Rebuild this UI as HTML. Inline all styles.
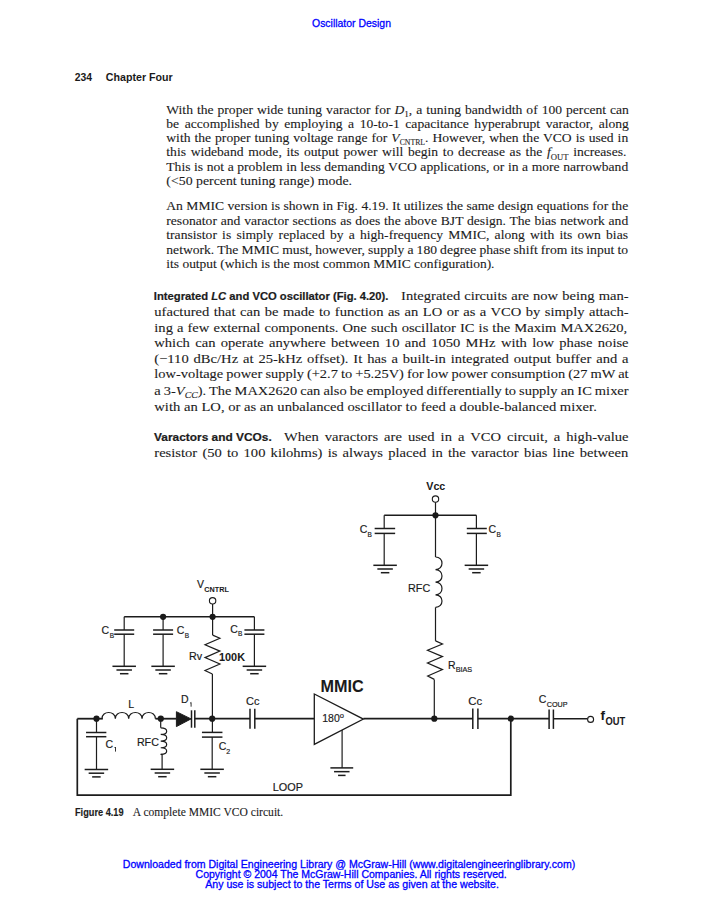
<!DOCTYPE html>
<html><head><meta charset="utf-8"><style>
html,body{margin:0;padding:0;background:#fff;width:701px;height:900px;overflow:hidden}
svg{display:block}
</style></head><body>
<svg width="701" height="900" viewBox="0 0 701 900">
<g font-family="Liberation Serif" fill="#1c1c1c" stroke="#1c1c1c" stroke-width="0.1">
<text x="312" y="26.8" font-size="11.5" font-family="Liberation Sans" fill="#0000ff" stroke="#0000ff" stroke-width="0.3" textLength="79.0" lengthAdjust="spacingAndGlyphs" >Oscillator Design</text>
<text x="74.7" y="80.7" font-size="10" font-family="Liberation Sans" font-weight="bold" fill="#1a1a1a" stroke="#1a1a1a" stroke-width="0" textLength="17.3" lengthAdjust="spacingAndGlyphs" >234</text>
<text x="105.8" y="80.7" font-size="10" font-family="Liberation Sans" font-weight="bold" fill="#1a1a1a" stroke="#1a1a1a" stroke-width="0" textLength="66.9" lengthAdjust="spacingAndGlyphs" >Chapter Four</text>
<text x="166.3" y="114.0" font-size="12.6" textLength="462.6" lengthAdjust="spacingAndGlyphs" style="word-spacing:0.52px">With the proper wide tuning varactor for <tspan font-style="italic">D</tspan><tspan font-size="8.5" dy="2.5">1</tspan><tspan dy="-2.5">, a tuning bandwidth of 100 percent can</tspan></text>
<text x="166.3" y="128.1" font-size="12.6" textLength="462.6" lengthAdjust="spacingAndGlyphs" style="word-spacing:2.03px">be accomplished by employing a 10-to-1 capacitance hyperabrupt varactor, along</text>
<text x="166.3" y="142.0" font-size="12.6" textLength="461.9" lengthAdjust="spacingAndGlyphs" style="word-spacing:0.54px">with the proper tuning voltage range for <tspan font-style="italic">V</tspan><tspan font-size="7.2" dy="3.2">CNTRL</tspan><tspan dy="-3.2">. However, when the VCO is used in</tspan></text>
<text x="166.3" y="156.3" font-size="12.6" textLength="460.1" lengthAdjust="spacingAndGlyphs" style="word-spacing:1.18px">this wideband mode, its output power will begin to decrease as the <tspan font-style="italic">f</tspan><tspan font-size="8" dy="3.2">OUT</tspan><tspan dy="-3.2"> increases.</tspan></text>
<text x="166.3" y="170.8" font-size="12.6" textLength="461.9" lengthAdjust="spacingAndGlyphs" style="word-spacing:0.16px">This is not a problem in less demanding VCO applications, or in a more narrowband</text>
<text x="166.3" y="185.3" font-size="12.6" textLength="185.7" lengthAdjust="spacingAndGlyphs">(&lt;50 percent tuning range) mode.</text>
<text x="166.3" y="209.7" font-size="12.6" textLength="461.9" lengthAdjust="spacingAndGlyphs" style="word-spacing:0.02px">An MMIC version is shown in Fig. 4.19. It utilizes the same design equations for the</text>
<text x="166.3" y="224.7" font-size="12.6" textLength="461.9" lengthAdjust="spacingAndGlyphs" style="word-spacing:0.38px">resonator and varactor sections as does the above BJT design. The bias network and</text>
<text x="166.3" y="238.5" font-size="12.6" textLength="461.7" lengthAdjust="spacingAndGlyphs" style="word-spacing:1.67px">transistor is simply replaced by a high-frequency MMIC, along with its own bias</text>
<text x="166.3" y="253.5" font-size="12.6" textLength="461.7" lengthAdjust="spacingAndGlyphs" style="word-spacing:-0.27px">network. The MMIC must, however, supply a 180 degree phase shift from its input to</text>
<text x="166.3" y="267.7" font-size="12.6" textLength="328.2" lengthAdjust="spacingAndGlyphs">its output (which is the most common MMIC configuration).</text>
<text x="153.8" y="299.7" font-size="11.3" font-family="Liberation Sans" font-weight="bold" fill="#1c1c1c" stroke="#1c1c1c" stroke-width="0.2" textLength="234.7" lengthAdjust="spacingAndGlyphs" >Integrated <tspan font-style="italic">LC</tspan> and VCO oscillator (Fig. 4.20).</text>
<text x="401.1" y="299.7" font-size="13.2" textLength="227.5" lengthAdjust="spacingAndGlyphs" style="word-spacing:0.38px">Integrated circuits are now being man-</text>
<text x="154.3" y="315.6" font-size="13.2" textLength="474.3" lengthAdjust="spacingAndGlyphs" style="word-spacing:0.75px">ufactured that can be made to function as an LO or as a VCO by simply attach-</text>
<text x="154.3" y="331.6" font-size="13.2" textLength="472.9" lengthAdjust="spacingAndGlyphs" style="word-spacing:0.38px">ing a few external components. One such oscillator IC is the Maxim MAX2620,</text>
<text x="154.3" y="346.5" font-size="13.2" textLength="474.3" lengthAdjust="spacingAndGlyphs" style="word-spacing:1.53px">which can operate anywhere between 10 and 1050 MHz with low phase noise</text>
<text x="154.3" y="362.6" font-size="13.2" textLength="474.3" lengthAdjust="spacingAndGlyphs" style="word-spacing:1.14px">(&#8722;110 dBc/Hz at 25-kHz offset). It has a built-in integrated output buffer and a</text>
<text x="154.3" y="378.4" font-size="13.2" textLength="474.3" lengthAdjust="spacingAndGlyphs" style="word-spacing:-0.50px">low-voltage power supply (+2.7 to +5.25V) for low power consumption (27 mW at</text>
<text x="154.3" y="394.5" font-size="13.2" textLength="474.3" lengthAdjust="spacingAndGlyphs" style="word-spacing:-0.50px">a 3-<tspan font-style="italic">V</tspan><tspan font-size="9" dy="3"><tspan font-style="italic">CC</tspan></tspan><tspan dy="-3">). The MAX2620 can also be employed differentially to supply an IC mixer</tspan></text>
<text x="154.3" y="410.7" font-size="13.2" textLength="442.5" lengthAdjust="spacingAndGlyphs">with an LO, or as an unbalanced oscillator to feed a double-balanced mixer.</text>
<text x="154.1" y="441.3" font-size="11.3" font-family="Liberation Sans" font-weight="bold" fill="#1c1c1c" stroke="#1c1c1c" stroke-width="0.2" textLength="117.6" lengthAdjust="spacingAndGlyphs" >Varactors and VCOs.</text>
<text x="283.9" y="441.3" font-size="13.2" textLength="344.7" lengthAdjust="spacingAndGlyphs" style="word-spacing:2.14px">When varactors are used in a VCO circuit, a high-value</text>
<text x="154.3" y="457.3" font-size="13.2" textLength="473.9" lengthAdjust="spacingAndGlyphs" style="word-spacing:1.41px">resistor (50 to 100 kilohms) is always placed in the varactor bias line between</text>
<text x="75" y="816.1" font-size="10" font-family="Liberation Sans" font-weight="bold" fill="#1c1c1c" stroke="#1c1c1c" stroke-width="0.15" textLength="48.6" lengthAdjust="spacingAndGlyphs" >Figure 4.19</text>
<text x="132.8" y="816.1" font-size="11.5" textLength="150.4" lengthAdjust="spacingAndGlyphs" >A complete MMIC VCO circuit.</text>
<text x="122.8" y="867.6" font-size="10.6" font-family="Liberation Sans" fill="#0000ff" stroke="#0000ff" stroke-width="0.3" textLength="452.4" lengthAdjust="spacingAndGlyphs" >Downloaded from Digital Engineering Library @ McGraw-Hill (www.digitalengineeringlibrary.com)</text>
<text x="195.6" y="877.9" font-size="10.6" font-family="Liberation Sans" fill="#0000ff" stroke="#0000ff" stroke-width="0.3" textLength="311.2" lengthAdjust="spacingAndGlyphs" >Copyright &#169; 2004 The McGraw-Hill Companies. All rights reserved.</text>
<text x="205.2" y="888.1" font-size="10.6" font-family="Liberation Sans" fill="#0000ff" stroke="#0000ff" stroke-width="0.3" textLength="293.7" lengthAdjust="spacingAndGlyphs" >Any use is subject to the Terms of Use as given at the website.</text>
<text x="426.3" y="490.4" font-size="11" font-family="Liberation Sans" font-weight="bold" fill="#1a1a1a" stroke="#1a1a1a" stroke-width="0.05" textLength="19.0" lengthAdjust="spacingAndGlyphs" >Vcc</text>
<text x="359.7" y="532.8" font-size="10.5" font-family="Liberation Sans" fill="#1a1a1a" stroke="#1a1a1a" stroke-width="0.18" >C</text>
<text x="367.6" y="536.7" font-size="6.5" font-family="Liberation Sans" fill="#1a1a1a" stroke="#1a1a1a" stroke-width="0.18" >B</text>
<text x="488.5" y="533.3" font-size="10.5" font-family="Liberation Sans" fill="#1a1a1a" stroke="#1a1a1a" stroke-width="0.18" >C</text>
<text x="496.6" y="536.9" font-size="6.5" font-family="Liberation Sans" fill="#1a1a1a" stroke="#1a1a1a" stroke-width="0.18" >B</text>
<text x="408" y="591.5" font-size="11" font-family="Liberation Sans" fill="#1a1a1a" stroke="#1a1a1a" stroke-width="0.18" textLength="22.2" lengthAdjust="spacingAndGlyphs" >RFC</text>
<text x="447.9" y="668.5" font-size="10.5" font-family="Liberation Sans" fill="#1a1a1a" stroke="#1a1a1a" stroke-width="0.18" >R</text>
<text x="455.7" y="672.2" font-size="7" font-family="Liberation Sans" fill="#1a1a1a" stroke="#1a1a1a" stroke-width="0.18" textLength="16.5" lengthAdjust="spacingAndGlyphs" >BIAS</text>
<text x="197.1" y="588.3" font-size="10.5" font-family="Liberation Sans" fill="#1a1a1a" stroke="#1a1a1a" stroke-width="0.18" >V</text>
<text x="204.3" y="591.7" font-size="7" font-family="Liberation Sans" font-weight="bold" fill="#1a1a1a" stroke="#1a1a1a" stroke-width="0.05" textLength="24.5" lengthAdjust="spacingAndGlyphs" >CNTRL</text>
<text x="101.4" y="634.2" font-size="10.5" font-family="Liberation Sans" fill="#1a1a1a" stroke="#1a1a1a" stroke-width="0.18" >C</text>
<text x="109.8" y="638.0" font-size="6.5" font-family="Liberation Sans" fill="#1a1a1a" stroke="#1a1a1a" stroke-width="0.18" >B</text>
<text x="176.8" y="634.2" font-size="10.5" font-family="Liberation Sans" fill="#1a1a1a" stroke="#1a1a1a" stroke-width="0.18" >C</text>
<text x="184.7" y="637.9" font-size="6.5" font-family="Liberation Sans" fill="#1a1a1a" stroke="#1a1a1a" stroke-width="0.18" >B</text>
<text x="230.2" y="632.8" font-size="10.5" font-family="Liberation Sans" fill="#1a1a1a" stroke="#1a1a1a" stroke-width="0.18" >C</text>
<text x="238.0" y="636.3" font-size="6.5" font-family="Liberation Sans" fill="#1a1a1a" stroke="#1a1a1a" stroke-width="0.18" >B</text>
<text x="189.1" y="660.0" font-size="10.5" font-family="Liberation Sans" fill="#1a1a1a" stroke="#1a1a1a" stroke-width="0.18" textLength="13.1" lengthAdjust="spacingAndGlyphs" >Rv</text>
<text x="219.0" y="661.0" font-size="10.8" font-family="Liberation Sans" font-weight="bold" fill="#1a1a1a" stroke="#1a1a1a" stroke-width="0.05" textLength="26.0" lengthAdjust="spacingAndGlyphs" >100K</text>
<text x="272.8" y="790.8" font-size="11" font-family="Liberation Sans" fill="#1a1a1a" stroke="#1a1a1a" stroke-width="0.18" textLength="30.2" lengthAdjust="spacingAndGlyphs" >LOOP</text>
<text x="105.4" y="747.9" font-size="10.5" font-family="Liberation Sans" fill="#1a1a1a" stroke="#1a1a1a" stroke-width="0.18" >C</text>
<text x="128.2" y="707.7" font-size="10.5" font-family="Liberation Sans" fill="#1a1a1a" stroke="#1a1a1a" stroke-width="0.18" >L</text>
<text x="136.9" y="745.9" font-size="11" font-family="Liberation Sans" fill="#1a1a1a" stroke="#1a1a1a" stroke-width="0.18" textLength="22.0" lengthAdjust="spacingAndGlyphs" >RFC</text>
<text x="181.1" y="703.4" font-size="10.5" font-family="Liberation Sans" fill="#1a1a1a" stroke="#1a1a1a" stroke-width="0.18" >D</text>
<text x="218.7" y="750.4" font-size="10.5" font-family="Liberation Sans" fill="#1a1a1a" stroke="#1a1a1a" stroke-width="0.18" >C</text>
<text x="226.2" y="754.2" font-size="7" font-family="Liberation Sans" fill="#1a1a1a" stroke="#1a1a1a" stroke-width="0.18" >2</text>
<text x="246.1" y="704.8" font-size="10.5" font-family="Liberation Sans" fill="#1a1a1a" stroke="#1a1a1a" stroke-width="0.18" textLength="13.4" lengthAdjust="spacingAndGlyphs" >Cc</text>
<text x="320.5" y="691.5" font-size="16" font-family="Liberation Sans" font-weight="bold" fill="#1a1a1a" stroke="#1a1a1a" stroke-width="0.05" textLength="43.2" lengthAdjust="spacingAndGlyphs" >MMIC</text>
<text x="322.3" y="722.3" font-size="11" font-family="Liberation Sans" fill="#1a1a1a" stroke="#1a1a1a" stroke-width="0.18" textLength="21.7" lengthAdjust="spacingAndGlyphs" >180<tspan font-size="8" dy="-4">o</tspan></text>
<text x="468.2" y="705.1" font-size="10.5" font-family="Liberation Sans" fill="#1a1a1a" stroke="#1a1a1a" stroke-width="0.18" textLength="13.9" lengthAdjust="spacingAndGlyphs" >Cc</text>
<text x="538.8" y="703.4" font-size="10.5" font-family="Liberation Sans" fill="#1a1a1a" stroke="#1a1a1a" stroke-width="0.18" >C</text>
<text x="546.8" y="706.8" font-size="7" font-family="Liberation Sans" fill="#1a1a1a" stroke="#1a1a1a" stroke-width="0.18" textLength="20.8" lengthAdjust="spacingAndGlyphs" >COUP</text>
<text x="600.5" y="720.3" font-size="13.5" font-family="Liberation Sans" font-weight="bold" fill="#1a1a1a" stroke="#1a1a1a" stroke-width="0.05" >f</text>
<text x="605.4" y="725.4" font-size="10" font-family="Liberation Sans" font-weight="bold" fill="#1a1a1a" stroke="#1a1a1a" stroke-width="0.05" textLength="19.7" lengthAdjust="spacingAndGlyphs" >OUT</text>
</g>
<g stroke="#1c1c1c" fill="none" stroke-linecap="butt">
<circle cx="435.5" cy="499.1" r="3.2" fill="#fff" stroke-width="1.1"/>
<line x1="435.5" y1="502.3" x2="435.5" y2="557" stroke-width="1.2"/>
<line x1="384.2" y1="515.3" x2="476.4" y2="515.3" stroke-width="1.4"/>
<circle cx="435.5" cy="515.3" r="3.1" fill="#1a1a1a" stroke="none"/>
<line x1="384.2" y1="515.3" x2="384.2" y2="528.5" stroke-width="1.2"/>
<line x1="384.2" y1="533.4" x2="384.2" y2="565.3" stroke-width="1.2"/>
<line x1="374.65" y1="528.5" x2="395.15" y2="528.5" stroke-width="1.5"/>
<line x1="374.65" y1="533.4" x2="395.15" y2="533.4" stroke-width="1.5"/>
<line x1="373.35" y1="565.3" x2="396.85" y2="565.3" stroke-width="1.5"/>
<line x1="377.35" y1="569.0" x2="392.85" y2="569.0" stroke-width="1.5"/>
<line x1="380.85" y1="572.6999999999999" x2="389.35" y2="572.6999999999999" stroke-width="1.5"/>
<line x1="476.4" y1="515.3" x2="476.4" y2="528.5" stroke-width="1.2"/>
<line x1="476.4" y1="533.4" x2="476.4" y2="565.3" stroke-width="1.2"/>
<line x1="466.8" y1="528.5" x2="486.8" y2="528.5" stroke-width="1.5"/>
<line x1="466.8" y1="533.4" x2="486.8" y2="533.4" stroke-width="1.5"/>
<line x1="464.65" y1="565.3" x2="488.15" y2="565.3" stroke-width="1.5"/>
<line x1="468.65" y1="569.0" x2="484.15" y2="569.0" stroke-width="1.5"/>
<line x1="472.15" y1="572.6999999999999" x2="480.65" y2="572.6999999999999" stroke-width="1.5"/>
<path d="M435.5,557 C444.145,557.0 444.145,569.6 435.5,569.6 C444.145,569.6 444.145,582.2 435.5,582.2 C444.145,582.2 444.145,594.8000000000001 435.5,594.8000000000001 C444.145,594.8 444.145,607.4 435.5,607.4" stroke-width="1.2" fill="none"/>
<line x1="435.5" y1="607.4" x2="435.5" y2="640.9" stroke-width="1.2"/>
<path d="M435.5,640.9 L442.5,644.0 L427.5,650.3 L442.5,656.6 L427.5,663.0 L442.5,669.6 L427.7,676.0 L434.3,679.4" stroke-width="1.2" fill="none"/>
<line x1="434.3" y1="679.4" x2="434.3" y2="718.5" stroke-width="1.2"/>
<circle cx="212.6" cy="600.8" r="3.2" fill="#fff" stroke-width="1.1"/>
<line x1="212.6" y1="604" x2="212.6" y2="635.1" stroke-width="1.2"/>
<line x1="124.2" y1="616.8" x2="254.4" y2="616.8" stroke-width="1.4"/>
<circle cx="163.1" cy="616.8" r="3.1" fill="#1a1a1a" stroke="none"/>
<circle cx="212.6" cy="616.8" r="3.1" fill="#1a1a1a" stroke="none"/>
<line x1="124.2" y1="616.8" x2="124.2" y2="630.0" stroke-width="1.2"/>
<line x1="124.2" y1="634.2" x2="124.2" y2="666.3" stroke-width="1.2"/>
<line x1="114.2" y1="630.0" x2="134.2" y2="630.0" stroke-width="1.5"/>
<line x1="114.2" y1="634.2" x2="134.2" y2="634.2" stroke-width="1.5"/>
<line x1="112.45" y1="666.3" x2="135.95" y2="666.3" stroke-width="1.5"/>
<line x1="116.45" y1="670.0" x2="131.95" y2="670.0" stroke-width="1.5"/>
<line x1="119.95" y1="673.6999999999999" x2="128.45" y2="673.6999999999999" stroke-width="1.5"/>
<line x1="163.1" y1="616.8" x2="163.1" y2="630.0" stroke-width="1.2"/>
<line x1="163.1" y1="634.2" x2="163.1" y2="666.3" stroke-width="1.2"/>
<line x1="153.1" y1="630.0" x2="173.1" y2="630.0" stroke-width="1.5"/>
<line x1="153.1" y1="634.2" x2="173.1" y2="634.2" stroke-width="1.5"/>
<line x1="151.35" y1="666.3" x2="174.85" y2="666.3" stroke-width="1.5"/>
<line x1="155.35" y1="670.0" x2="170.85" y2="670.0" stroke-width="1.5"/>
<line x1="158.85" y1="673.6999999999999" x2="167.35" y2="673.6999999999999" stroke-width="1.5"/>
<line x1="254.4" y1="616.8" x2="254.4" y2="630.0" stroke-width="1.2"/>
<line x1="254.4" y1="634.2" x2="254.4" y2="666.3" stroke-width="1.2"/>
<line x1="244.4" y1="630.0" x2="264.4" y2="630.0" stroke-width="1.5"/>
<line x1="244.4" y1="634.2" x2="264.4" y2="634.2" stroke-width="1.5"/>
<line x1="242.65" y1="666.3" x2="266.15" y2="666.3" stroke-width="1.5"/>
<line x1="246.65" y1="670.0" x2="262.15" y2="670.0" stroke-width="1.5"/>
<line x1="250.15" y1="673.6999999999999" x2="258.65" y2="673.6999999999999" stroke-width="1.5"/>
<path d="M212.6,635.1 L219.9,638.2 L205.0,644.8 L219.9,651.1 L205.0,657.6 L219.9,664.0 L205.0,670.5 L212.4,674.0" stroke-width="1.2" fill="none"/>
<line x1="212.4" y1="674.0" x2="212.4" y2="732.4" stroke-width="1.2"/>
<line x1="77.3" y1="718.7" x2="102.8" y2="718.7" stroke-width="1.8"/>
<line x1="155.4" y1="718.7" x2="176.4" y2="718.7" stroke-width="1.8"/>
<line x1="194.7" y1="718.7" x2="250" y2="718.7" stroke-width="1.8"/>
<line x1="254.8" y1="718.7" x2="314.3" y2="718.7" stroke-width="1.8"/>
<line x1="363.4" y1="718.7" x2="472.8" y2="718.7" stroke-width="1.8"/>
<line x1="477.9" y1="718.7" x2="549.1" y2="718.7" stroke-width="1.8"/>
<line x1="553.4" y1="718.7" x2="587.6" y2="718.7" stroke-width="1.6"/>
<circle cx="590.6" cy="719.4" r="3.0" fill="#fff" stroke-width="1.1"/>
<path d="M77.3,718.7 L77.3,795.2 L510.8,795.2 L510.8,718.7" stroke-width="1.7" fill="none"/>
<circle cx="96.5" cy="718.7" r="3.1" fill="#1a1a1a" stroke="none"/>
<circle cx="160.8" cy="718.7" r="3.1" fill="#1a1a1a" stroke="none"/>
<circle cx="212.2" cy="718.7" r="3.1" fill="#1a1a1a" stroke="none"/>
<circle cx="434.3" cy="718.7" r="3.1" fill="#1a1a1a" stroke="none"/>
<circle cx="510.8" cy="718.7" r="3.1" fill="#1a1a1a" stroke="none"/>
<line x1="96.5" y1="718.7" x2="96.5" y2="732.5" stroke-width="1.2"/>
<line x1="96.5" y1="736.7" x2="96.5" y2="769.5" stroke-width="1.2"/>
<line x1="86.05" y1="732.5" x2="106.35000000000001" y2="732.5" stroke-width="1.5"/>
<line x1="86.05" y1="736.7" x2="106.35000000000001" y2="736.7" stroke-width="1.5"/>
<line x1="84.65" y1="769.5" x2="108.15" y2="769.5" stroke-width="1.5"/>
<line x1="88.65" y1="773.2" x2="104.15" y2="773.2" stroke-width="1.5"/>
<line x1="92.15" y1="776.9" x2="100.65" y2="776.9" stroke-width="1.5"/>
<path d="M114.5,748.0 L115.5,747.0 L115.5,751.6" stroke-width="0.9" fill="none"/>
<path d="M102,718.7 C102.0,710.4540000000001 115.35,710.4540000000001 115.35,718.7 C115.35,710.4540000000001 128.7,710.4540000000001 128.7,718.7 C128.7,710.4540000000001 142.04999999999998,710.4540000000001 142.04999999999998,718.7 C142.05,710.4540000000001 155.4,710.4540000000001 155.4,718.7" stroke-width="1.2" fill="none"/>
<line x1="160.7" y1="718.7" x2="160.7" y2="727.8" stroke-width="1.2"/>
<path d="M160.7,727.8 C168.67999999999998,727.8 168.67999999999998,734.4499999999999 160.7,734.4499999999999 C168.67999999999998,734.4499999999999 168.67999999999998,741.0999999999999 160.7,741.0999999999999 C168.67999999999998,741.0999999999999 168.67999999999998,747.7499999999999 160.7,747.7499999999999 C168.67999999999998,747.75 168.67999999999998,754.4 160.7,754.4" stroke-width="1.2" fill="none"/>
<path d="M160.7,754.4 L162.1,754.6 L162.1,769.3" stroke-width="1.2" fill="none"/>
<line x1="150.65" y1="769.3" x2="174.15" y2="769.3" stroke-width="1.5"/>
<line x1="154.65" y1="773.0" x2="170.15" y2="773.0" stroke-width="1.5"/>
<line x1="158.15" y1="776.6999999999999" x2="166.65" y2="776.6999999999999" stroke-width="1.5"/>
<path d="M176.4,711.7 L191.0,718.9 L176.4,726.6 Z" stroke-width="1.0" fill="#1a1a1a"/>
<line x1="191.5" y1="710.3" x2="191.5" y2="727.7" stroke-width="1.5"/>
<line x1="194.8" y1="710.3" x2="194.8" y2="727.7" stroke-width="1.5"/>
<path d="M190.2,703.2 L191.1,702.4 L191.1,706.7" stroke-width="0.9" fill="none"/>
<line x1="212.2" y1="732.4" x2="212.2" y2="732.4" stroke-width="1.2"/>
<line x1="212.2" y1="737.1" x2="212.2" y2="769.3" stroke-width="1.2"/>
<line x1="201.95" y1="732.4" x2="222.45" y2="732.4" stroke-width="1.5"/>
<line x1="201.95" y1="737.1" x2="222.45" y2="737.1" stroke-width="1.5"/>
<line x1="200.35" y1="769.3" x2="223.85" y2="769.3" stroke-width="1.5"/>
<line x1="204.35" y1="773.0" x2="219.85" y2="773.0" stroke-width="1.5"/>
<line x1="207.85" y1="776.6999999999999" x2="216.35" y2="776.6999999999999" stroke-width="1.5"/>
<line x1="250.0" y1="708.7" x2="250.0" y2="728.7" stroke-width="1.5"/>
<line x1="254.8" y1="708.7" x2="254.8" y2="728.7" stroke-width="1.5"/>
<path d="M314.3,694 L363.4,719.1 L314.3,744.4 Z" stroke-width="1.3" fill="none"/>
<line x1="342.1" y1="730.0" x2="342.1" y2="767.9" stroke-width="1.2"/>
<line x1="330.40000000000003" y1="767.9" x2="353.2" y2="767.9" stroke-width="1.5"/>
<line x1="334.05" y1="771.65" x2="349.55" y2="771.65" stroke-width="1.5"/>
<line x1="338.05" y1="775.4" x2="345.55" y2="775.4" stroke-width="1.5"/>
<line x1="472.8" y1="708.45" x2="472.8" y2="728.95" stroke-width="1.5"/>
<line x1="477.9" y1="708.45" x2="477.9" y2="728.95" stroke-width="1.5"/>
<line x1="549.1" y1="709.5" x2="549.1" y2="728.9000000000001" stroke-width="1.5"/>
<line x1="553.4" y1="709.5" x2="553.4" y2="728.9000000000001" stroke-width="1.5"/>
</g>
</svg>
</body></html>
